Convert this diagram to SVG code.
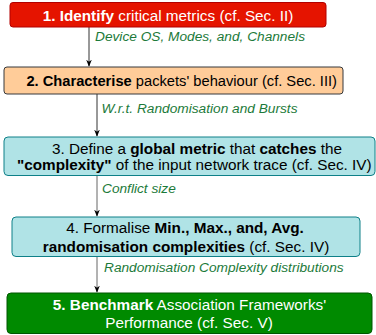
<svg xmlns="http://www.w3.org/2000/svg" width="376" height="335" viewBox="0 0 376 335">
<defs>
<style>
text{font-family:"Liberation Sans",Arial,sans-serif;}
.t{font-size:15.3px;text-anchor:middle;}
.w{fill:#ffffff;}
.k{fill:#000000;}
.b{font-weight:bold;}
.lbl{font-size:13.7px;font-style:italic;fill:#1c7a3a;}
.c1{stroke:#333333;stroke-width:1;fill:none;}
.c2{stroke:#666666;stroke-width:1;fill:none;}
</style>
<marker id="ah" viewBox="0 0 10 10" refX="9" refY="5" markerWidth="7" markerHeight="7" orient="auto" markerUnits="userSpaceOnUse">
<path d="M0,1 L10,5 L0,9 L3,5 Z" fill="#000"/>
</marker>
</defs>
<g id="connectors">
<line class="c1" x1="89" y1="27" x2="89" y2="66" marker-end="url(#ah)"/>
<line class="c1" x1="97" y1="94" x2="97" y2="136" marker-end="url(#ah)"/>
<line class="c2" x1="97" y1="176" x2="97" y2="216" marker-end="url(#ah)"/>
<line class="c2" x1="97" y1="257" x2="97" y2="292" marker-end="url(#ah)"/>
<text class="lbl" x="95" y="41.3">Device OS, Modes, and, Channels</text>
<text class="lbl" x="101.5" y="113.3">W.r.t. Randomisation and Bursts</text>
<text class="lbl" x="102" y="192.7">Conflict size</text>
<text class="lbl" x="104" y="271.7">Randomisation Complexity distributions</text>
</g>
<g id="n1">
<rect x="10" y="2.5" width="316" height="24.5" rx="3" fill="#e51400" stroke="#b20000"/>
<text class="t w" x="168" y="20.5"><tspan class="b">1. Identify</tspan> critical metrics (cf. Sec. II)</text>
</g>
<g id="n2">
<rect x="4" y="67" width="339" height="27" rx="3" fill="#ffcc99" stroke="#36393d"/>
<text class="t k" x="181.7" y="86" style="font-size:14.7px"><tspan class="b">2. Characterise</tspan> packets' behaviour (cf. Sec. III)</text>
</g>
<g id="n3">
<rect x="4" y="137" width="371" height="38.5" rx="4" fill="#b0e3e6" stroke="#0e8088"/>
<text class="t k" x="197" y="154">3. Define a <tspan class="b">global metric</tspan> that <tspan class="b">catches</tspan> the</text>
<text class="t k" x="194.3" y="169.7"><tspan class="b">"complexity"</tspan> of the input network trace (cf. Sec. IV)</text>
</g>
<g id="n4">
<rect x="12" y="217" width="348" height="39.5" rx="4" fill="#b0e3e6" stroke="#0e8088"/>
<text class="t k" x="185" y="233.3">4. Formalise <tspan class="b">Min., Max., and, Avg.</tspan></text>
<text class="t k" x="186" y="251.7"><tspan class="b">randomisation complexities</tspan> (cf. Sec. IV)</text>
</g>
<g id="n5">
<rect x="7" y="293" width="365" height="40.5" rx="4" fill="#008a00" stroke="#005700"/>
<text class="t w" x="189.5" y="310"><tspan class="b">5. Benchmark</tspan> Association Frameworks'</text>
<text class="t w" x="189" y="328">Performance (cf. Sec. V)</text>
</g>
</svg>
